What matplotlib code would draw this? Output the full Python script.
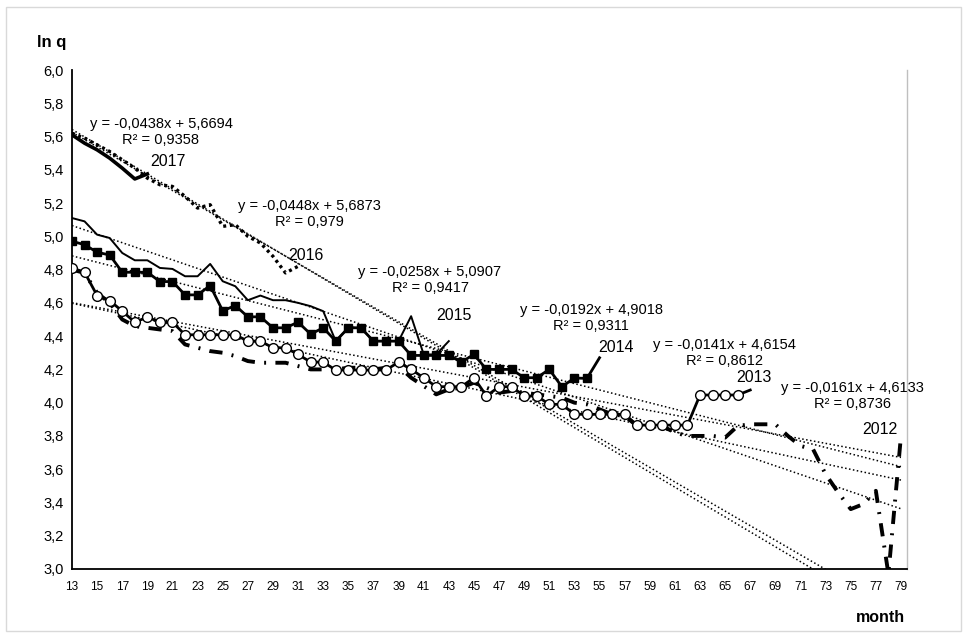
import matplotlib
matplotlib.use("Agg")
import matplotlib.pyplot as plt
from matplotlib.patches import Rectangle
import numpy as np

plt.rcParams['font.family'] = ['Liberation Sans', 'DejaVu Sans']

# ---------------- data ----------------
months_all = list(range(13, 80))

y2017 = [5.61, 5.56, 5.52, 5.47, 5.41, 5.345, 5.375]
y2016 = [5.62, 5.59, 5.55, 5.51, 5.46, 5.41, 5.35, 5.31, 5.30, 5.24, 5.17, 5.19,
         5.06, 5.07, 5.00, 4.96, 4.88, 4.78, 4.82]
y2015 = [5.11, 5.09, 5.01, 4.99, 4.90, 4.856, 4.856, 4.81, 4.804, 4.76, 4.76, 4.834,
         4.73, 4.70, 4.616, 4.644, 4.616, 4.616, 4.60, 4.58, 4.55, 4.37, 4.45, 4.45,
         4.37, 4.37, 4.37, 4.52, 4.29, 4.29, 4.37]
y2014 = [4.97, 4.95, 4.904, 4.888, 4.784, 4.784, 4.784, 4.728, 4.728, 4.648, 4.648, 4.704,
         4.552, 4.584, 4.516, 4.516, 4.45, 4.45, 4.484, 4.412, 4.45, 4.37, 4.45, 4.45,
         4.37, 4.37, 4.37, 4.284, 4.284, 4.284, 4.284, 4.244, 4.29, 4.20, 4.20, 4.20,
         4.15, 4.15, 4.20, 4.096, 4.148, 4.146, 4.27]
y2013 = [4.81, 4.784, 4.644, 4.614, 4.55, 4.484, 4.514, 4.484, 4.484, 4.408, 4.408, 4.408,
         4.408, 4.408, 4.37, 4.37, 4.33, 4.33, 4.29, 4.244, 4.244, 4.196, 4.196, 4.196,
         4.196, 4.196, 4.244, 4.20, 4.15, 4.096, 4.096, 4.096, 4.15, 4.04, 4.096, 4.096,
         4.04, 4.04, 3.99, 3.99, 3.93, 3.93, 3.93, 3.93, 3.93, 3.865, 3.865, 3.865,
         3.865, 3.865, 4.046, 4.046, 4.046, 4.046, 4.076]
y2012 = [4.80, 4.78, 4.66, 4.60, 4.50, 4.46, 4.45, 4.44, 4.43, 4.35, 4.33, 4.31,
         4.30, 4.28, 4.25, 4.24, 4.24, 4.24, 4.22, 4.20, 4.20, 4.20, 4.21, 4.21,
         4.20, 4.21, 4.22, 4.15, 4.10, 4.05, 4.08, 4.09, 4.12, 4.09, 4.06, 4.07,
         4.06, 4.05, 4.04, 4.03, 4.00, 3.99, 3.96, 3.93, 3.92, 3.86, 3.86, 3.86,
         3.82, 3.80, 3.80, 3.80, 3.79, 3.86, 3.87, 3.87, 3.87, 3.80, 3.74, 3.72,
         3.57, 3.46, 3.36, 3.39, 3.47, 2.97, 3.80]

# trendlines (Excel: x = category index, 1 at month 13)
trend_slope = {"2017": -0.0438, "2016": -0.0448, "2015": -0.0258,
               "2014": -0.0192, "2013": -0.0141, "2012": -0.0161}
trend_icpt = {"2017": 5.6694, "2016": 5.6873, "2015": 5.0907,
              "2014": 4.9018, "2013": 4.6154, "2012": 4.6133}
trend_r2 = {"2017": "0,9358", "2016": "0,979", "2015": "0,9417",
            "2014": "0,9311", "2013": "0,8612", "2012": "0,8736"}

yticks = [3.0, 3.2, 3.4, 3.6, 3.8, 4.0, 4.2, 4.4, 4.6, 4.8, 5.0, 5.2, 5.4, 5.6, 5.8, 6.0]
xticks = list(range(13, 80, 2))

# ---------------- figure ----------------
W, H = 968, 637
fig = plt.figure(figsize=(W / 100, H / 100), dpi=100)
fig.patches.append(Rectangle((6 / W, 1 - 631 / H), 955 / W, 624 / H, transform=fig.transFigure,
                             fill=False, edgecolor="#d9d9d9", linewidth=1))

L, R, T, B = 72, 907, 70, 569
ax = fig.add_axes([L / W, 1 - B / H, (R - L) / W, (B - T) / H])

def mx(vals):
    return months_all[:len(vals)]

# trendlines
xs = np.array(months_all, dtype=float)
for yr in ["2017", "2016", "2015", "2014", "2013", "2012"]:
    idx = xs - 12
    ax.plot(xs, trend_slope[yr] * idx + trend_icpt[yr], color="black", lw=1.1,
            linestyle=(0, (1, 1.6)), zorder=2)

# series
ax.plot(mx(y2012), y2012, color="black", lw=2.8, linestyle=(0, (3.4, 2.4, 0.5, 2.4)),
        zorder=3)
ax.plot(mx(y2013), y2013, color="black", lw=2.0, marker="o", markersize=7,
        markerfacecolor="white", markeredgecolor="black", markeredgewidth=1.0,
        markevery=list(range(len(y2013) - 1)), zorder=4)
ax.plot(mx(y2014), y2014, color="black", lw=2.0, marker="s", markersize=6,
        markerfacecolor="black", markevery=list(range(len(y2014) - 1)), zorder=4)
ax.plot(mx(y2015), y2015, color="black", lw=1.4, zorder=4)
ax.plot(mx(y2016), y2016, color="black", lw=2.4, linestyle=(0, (0.9, 1.1)), zorder=4)
ax.plot(mx(y2017), y2017, color="black", lw=2.6, zorder=5)

ax.set_xlim(13, 79.48)
ax.set_ylim(3.0, 6.0)
ax.set_yticks(yticks)
ax.set_yticklabels([f"{v:.1f}".replace(".", ",") for v in yticks], fontsize=10.5)
ax.set_xticks(xticks)
ax.set_xticklabels([str(v) for v in xticks], fontsize=8.5,
                   family=["Liberation Sans Narrow", "Liberation Sans"])
ax.tick_params(axis="x", length=0, pad=9)
ax.tick_params(axis="y", length=0, pad=6)
for s in ["left", "bottom"]:
    ax.spines[s].set_color("black")
    ax.spines[s].set_linewidth(1.3)
ax.spines["top"].set_visible(False)
ax.spines["right"].set_color("#bfbfbf")
ax.spines["right"].set_linewidth(1.0)

# text annotations (figure pixel positions)
def ftext(x, y, s, **kw):
    fig.text(x / W, 1 - y / H, s, ha="center", va="center", **kw)

eq_pos = {"2017": (161, 124), "2016": (309, 206), "2015": (430, 272),
          "2014": (591, 310), "2013": (724, 345), "2012": (852, 388)}
yr_pos = {"2017": (168, 162), "2016": (306, 256), "2015": (454, 315),
          "2014": (616, 347), "2013": (754, 378), "2012": (880, 430)}
for yr in eq_pos:
    ex, ey = eq_pos[yr]
    a = f"{trend_slope[yr]:.4f}".replace(".", ",")
    b = f"{trend_icpt[yr]:.4f}".replace(".", ",")
    ftext(ex, ey, f"y = {a}x + {b}", fontsize=10.5)
    ftext(ex, ey + 16, f"R² = {trend_r2[yr]}", fontsize=10.5)
    ftext(*yr_pos[yr], yr, fontsize=11.5)

fig.text(37 / W, 1 - 43 / H, "ln q", ha="left", va="center", fontsize=12, fontweight="bold")
fig.text(905 / W, 1 - 617 / H, "month", ha="right", va="center", fontsize=11.5,
         fontweight="bold")

fig.savefig("out.png", dpi=100)
